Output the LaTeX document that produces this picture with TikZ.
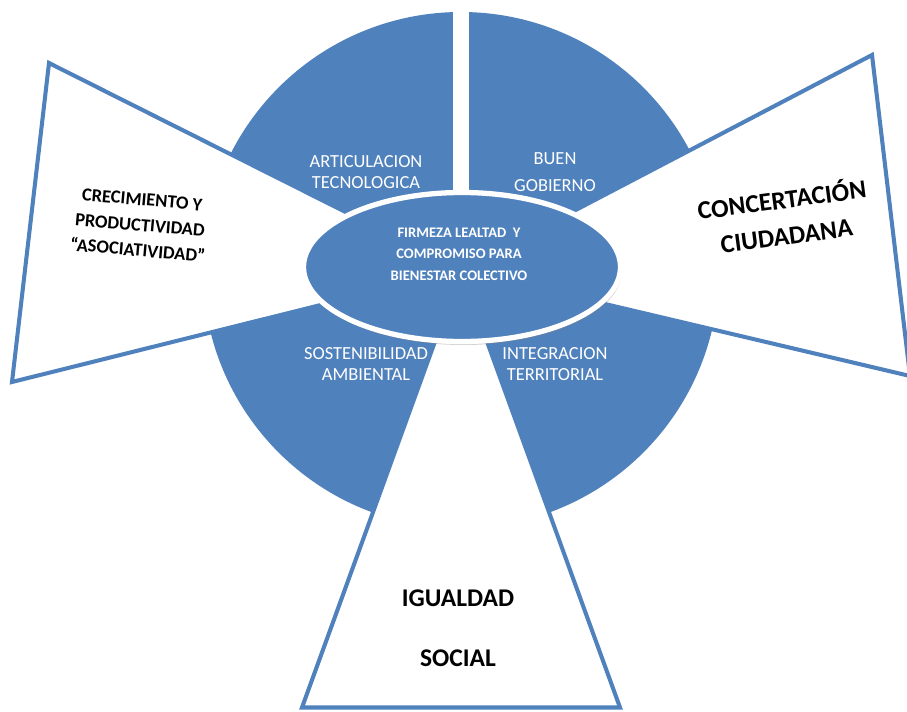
\documentclass[tikz,border=0pt]{standalone}
\usepackage{fontspec}
\setmainfont{Carlito}
\usetikzlibrary{shapes.geometric,shadows}
\definecolor{azul}{HTML}{4F81BD}
\tikzset{
	wedge/.style={draw=azul,line width=2.3pt,fill=white,line join=miter},
	eje/.style={text=white,align=center,font=\fontsize{10.5}{12}\selectfont},
	lema/.style={text=black,align=center},
}
\begin{document}
\begin{tikzpicture}
	\useasboundingbox (0,0) rectangle (18.14,14.22);
	\clip (0,0) rectangle (18.14,14.22);
	\coordinate (C) at (9.22,8.82);%Mittelpunkt
	\fill[azul] (C) circle (5.16cm);%Kreis
	\fill[white] (9.06,8.8) rectangle (9.38,14.3);%Spalt oben
	\draw[wedge] (C) -- (0.98,12.96) -- (0.24,6.58) -- cycle;%Keil links
	\draw[wedge] (C) -- (17.44,13.12) -- (18.2,6.7) -- cycle;%Keil rechts
	\draw[wedge] (C) -- (6.04,0.07) -- (12.4,0.07) -- cycle;%Keil unten
	\node[ellipse,draw=white,line width=3pt,fill=azul,minimum width=6.34cm,minimum height=2.98cm,inner sep=0pt,
		drop shadow={opacity=0.35,shadow xshift=0.03cm,shadow yshift=-0.07cm}] (centro) at (9.24,8.88) {};
	\node[eje,font=\bfseries\fontsize{8.3}{12.2}\selectfont] (firmeza) at (9.18,9.14) {FIRMEZA LEALTAD\ \ Y\\COMPROMISO PARA\\BIENESTAR COLECTIVO};
	\node[eje] (artic) at (7.32,10.78) {ARTICULACION\\TECNOLOGICA};
	\node[eje,font=\fontsize{10.5}{15.4}\selectfont] (buen) at (11.1,10.78) {BUEN\\GOBIERNO};
	\node[eje] (sosten) at (7.32,6.94) {SOSTENIBILIDAD\\AMBIENTAL};
	\node[eje] (integ) at (11.1,6.94) {INTEGRACION\\TERRITORIAL};
	\node[lema,rotate=-5,font=\bfseries\fontsize{10.5}{14.5}\selectfont] (crecim) at (2.8,9.72) {CRECIMIENTO Y\\PRODUCTIVIDAD\\“ASOCIATIVIDAD”};
	\node[lema,rotate=7.5,font=\bfseries\fontsize{14.7}{20.5}\selectfont] (concert) at (15.68,9.9) {CONCERTACIÓN\\CIUDADANA};
	\node[lema,font=\bfseries\fontsize{14.5}{34}\selectfont] (igual) at (9.16,1.66) {IGUALDAD\\SOCIAL};
\end{tikzpicture}
\end{document}
